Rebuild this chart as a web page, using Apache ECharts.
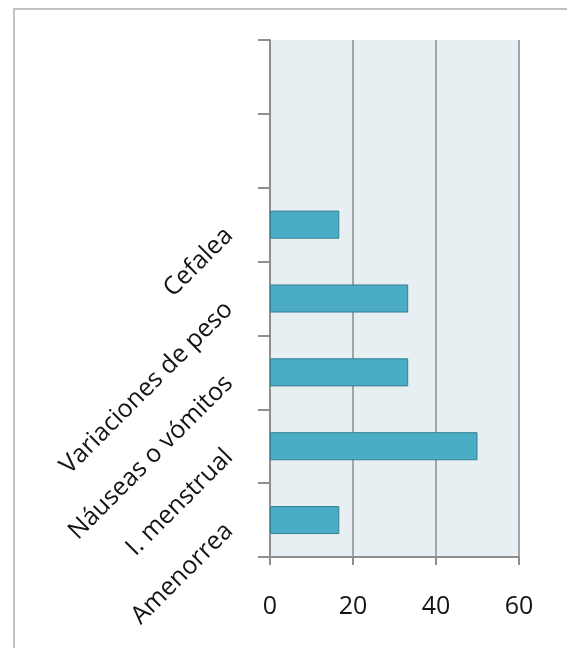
<!DOCTYPE html>
<html>
<head>
<meta charset="utf-8">
<script src="https://cdn.jsdelivr.net/npm/echarts@6/dist/echarts.min.js"></script>
<style>
  html, body { margin: 0; padding: 0; background: #ffffff; }
  #chart { width: 567px; height: 648px; }
</style>
</head>
<body>
<div id="chart"></div>
<script>
// Síntomas (bottom to top), two empty slots kept at the top of the axis
const categories = ['Amenorrea', 'I. menstrual', 'Náuseas o vómitos', 'Variaciones de peso', 'Cefalea', '', ''];
const values = [16.7, 50, 33.3, 33.3, 16.7, null, null];
const xTicks = [0, 20, 40, 60];

const chart = echarts.init(document.getElementById('chart'), null, { renderer: 'canvas' });

const font = '"Open Sans", sans-serif';

chart.setOption({
  animation: false,
  backgroundColor: '#ffffff',
  graphic: [{
    type: 'rect',
    shape: { x: 14, y: 9, width: 600, height: 700 },
    style: { fill: 'none', stroke: '#c2c2c2', lineWidth: 2 },
    silent: true
  }],
  grid: {
    left: 270, top: 40, right: 48, bottom: 91,
    show: true,
    backgroundColor: '#e8eff3',
    borderWidth: 0
  },
  xAxis: {
    type: 'value',
    min: xTicks[0],
    max: xTicks[xTicks.length - 1],
    interval: 20,
    axisLine: { show: true, lineStyle: { color: '#8e8e8e', width: 2 } },
    axisTick: { show: true, length: 8, lineStyle: { color: '#8e8e8e', width: 2 } },
    axisLabel: { margin: 37, fontFamily: font, fontSize: 25, color: '#141414' },
    splitLine: { show: true, lineStyle: { color: '#a4a4a4', width: 2 } }
  },
  yAxis: {
    type: 'category',
    data: categories,
    axisLine: { show: true, lineStyle: { color: '#8e8e8e', width: 2 } },
    axisTick: { show: true, length: 12, lineStyle: { color: '#8e8e8e', width: 2 } },
    axisLabel: {
      rotate: 45,
      margin: 34,
      padding: [0, 10, 0, 0],
      fontFamily: font,
      fontSize: 25,
      color: '#141414',
      interval: 0
    },
    splitLine: { show: false }
  },
  series: [{
    type: 'bar',
    data: values,
    barWidth: '38%',
    itemStyle: { color: '#4aacc5', borderColor: '#357f94', borderWidth: 1 }
  }]
});
</script>
</body>
</html>
